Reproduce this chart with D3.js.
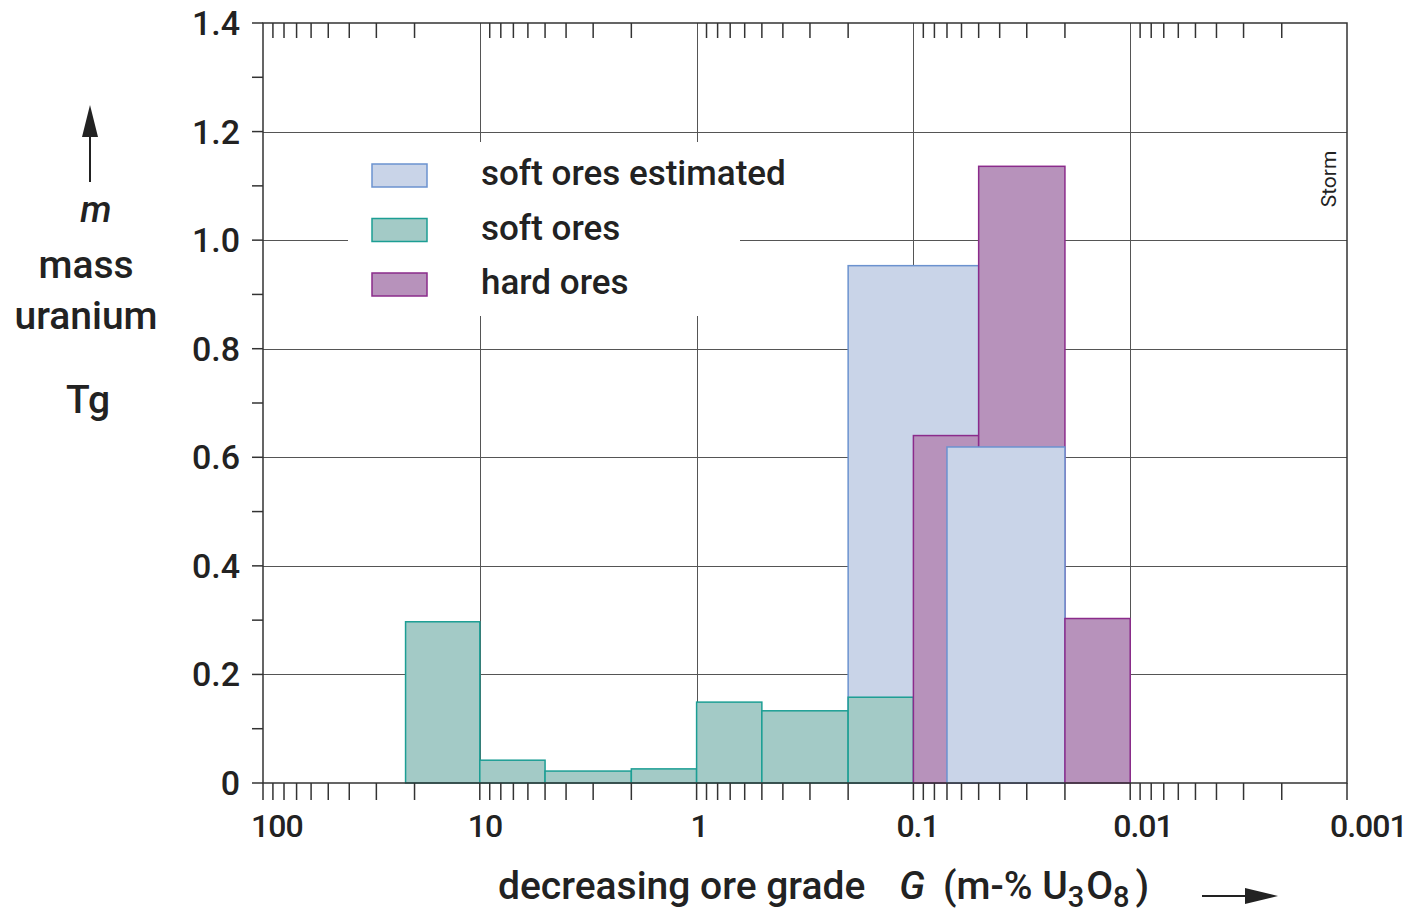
<!DOCTYPE html>
<html>
<head>
<meta charset="utf-8">
<script src="https://cdn.jsdelivr.net/npm/d3@7"></script>
<style>
  html, body { margin: 0; padding: 0; background: #fff; }
  svg { display: block; }
  text { font-family: Roboto, 'Noto Sans', sans-serif; fill: #222; }
</style>
</head>
<body>
<script>
// ore grade bins (m-% U3O8) and mass uranium (Tg)
var softEstimated = [
    { from: 0.2, to: 0.05, value: 0.953 },
    { from: 0.07, to: 0.02, value: 0.619 }
];
var softOres = [
    { from: 22, to: 10, value: 0.297 },
    { from: 10, to: 5, value: 0.042 },
    { from: 5, to: 2, value: 0.022 },
    { from: 2, to: 1, value: 0.026 },
    { from: 1, to: 0.5, value: 0.149 },
    { from: 0.5, to: 0.2, value: 0.133 },
    { from: 0.2, to: 0.1, value: 0.158 }
];
var hardOres = [
    { from: 0.1, to: 0.05, value: 0.640 },
    { from: 0.05, to: 0.02, value: 1.136 },
    { from: 0.02, to: 0.01, value: 0.303 }
];
var legendLabels = ['soft ores estimated', 'soft ores', 'hard ores'];
var xTickLabels = ['100', '10', '1', '0.1', '0.01', '0.001'];
var yTickLabels = ['0', '0.2', '0.4', '0.6', '0.8', '1.0', '1.2', '1.4'];

(function() {
    'use strict';
    var width = 1416, height = 916;
    var plot = { left: 263, right: 1347, top: 23, bottom: 783 };

    var colors = {
        est: { fill: '#c9d4e8', stroke: '#6b92cf' },
        soft: { fill: '#a3cac6', stroke: '#1c9e94' },
        hard: { fill: '#b792bb', stroke: '#8b2b8b' }
    };

    var svg = d3.select('body').append('svg')
        .attr('width', width)
        .attr('height', height);

    var x = d3.scaleLog()
        .domain([100, 0.001])
        .range([plot.left, plot.right]);

    var y = d3.scaleLinear()
        .domain([0, 1.4])
        .range([plot.bottom, plot.top]);

    var majors = xTickLabels.map(Number);
    var allTicks = x.ticks();
    var minors = allTicks.filter(function(d) {
        return majors.every(function(m) { return Math.abs(d / m - 1) > 1e-6; });
    });

    // grid
    var grid = svg.append('g').attr('stroke', '#555').attr('stroke-width', 1);
    grid.selectAll('.vg')
        .data(majors.slice(1, -1))
        .enter().append('line')
        .attr('x1', function(d) { return Math.round(x(d)) + 0.5; })
        .attr('x2', function(d) { return Math.round(x(d)) + 0.5; })
        .attr('y1', plot.top)
        .attr('y2', plot.bottom);
    grid.selectAll('.hg')
        .data(d3.range(1, 7).map(function(i) { return i * 0.2; }))
        .enter().append('line')
        .attr('x1', plot.left)
        .attr('x2', plot.right)
        .attr('y1', function(d) { return Math.round(y(d)) + 0.5; })
        .attr('y2', function(d) { return Math.round(y(d)) + 0.5; });

    // legend background knocks out the grid
    svg.append('rect')
        .attr('x', 348).attr('y', 142)
        .attr('width', 392).attr('height', 174)
        .attr('fill', '#fff');

    // bars
    function bar(d, key) {
        svg.append('rect')
            .attr('x', x(d.from))
            .attr('y', y(d.value))
            .attr('width', x(d.to) - x(d.from))
            .attr('height', y(0) - y(d.value))
            .attr('fill', colors[key].fill)
            .attr('stroke', colors[key].stroke)
            .attr('stroke-width', 1.5);
    }
    bar(softEstimated[0], 'est');
    softOres.forEach(function(d) { bar(d, 'soft'); });
    bar(hardOres[0], 'hard');
    bar(hardOres[1], 'hard');
    bar(softEstimated[1], 'est');
    bar(hardOres[2], 'hard');

    // frame
    svg.append('rect')
        .attr('x', plot.left).attr('y', plot.top)
        .attr('width', plot.right - plot.left)
        .attr('height', plot.bottom - plot.top)
        .attr('fill', 'none')
        .attr('stroke', '#333')
        .attr('stroke-width', 1.5);

    var ticks = svg.append('g').attr('stroke', '#333').attr('stroke-width', 1.5);
    // bottom ticks (outward)
    ticks.selectAll('.bt')
        .data(allTicks)
        .enter().append('line')
        .attr('x1', function(d) { return x(d); })
        .attr('x2', function(d) { return x(d); })
        .attr('y1', plot.bottom)
        .attr('y2', plot.bottom + 17);
    // top ticks (inward)
    ticks.selectAll('.tt')
        .data(minors)
        .enter().append('line')
        .attr('x1', function(d) { return x(d); })
        .attr('x2', function(d) { return x(d); })
        .attr('y1', plot.top)
        .attr('y2', plot.top + 15);
    // left ticks (outward)
    ticks.selectAll('.lt')
        .data(y.ticks(14))
        .enter().append('line')
        .attr('x1', plot.left - 11)
        .attr('x2', plot.left)
        .attr('y1', function(d) { return y(d); })
        .attr('y2', function(d) { return y(d); });

    // tick labels
    svg.selectAll('.xl')
        .data(xTickLabels)
        .enter().append('text')
        .attr('x', function(d) { return x(+d) - (+d < 1 ? 17 : (+d === 1 ? 6 : 12)); })
        .attr('y', 837)
        .attr('font-size', 32)
        .attr('font-weight', 500)
        .attr('letter-spacing', -1)
        .text(function(d) { return d; });

    svg.selectAll('.yl')
        .data(yTickLabels)
        .enter().append('text')
        .attr('x', 240)
        .attr('y', function(d) { return y(+d) + 12; })
        .attr('text-anchor', 'end')
        .attr('font-size', 34)
        .attr('font-weight', 500)
        .text(function(d) { return d; });

    // legend
    var keys = ['est', 'soft', 'hard'];
    var legend = svg.append('g');
    legendLabels.forEach(function(label, i) {
        var yy = 164 + i * 54.5;
        legend.append('rect')
            .attr('x', 372).attr('y', yy)
            .attr('width', 55).attr('height', 23)
            .attr('fill', colors[keys[i]].fill)
            .attr('stroke', colors[keys[i]].stroke)
            .attr('stroke-width', 1.5);
        legend.append('text')
            .attr('x', 481)
            .attr('y', yy + 21)
            .attr('font-size', 35)
            .attr('font-weight', 500)
            .text(label);
    });

    // y title
    var yt = svg.append('g');
    yt.append('line')
        .attr('x1', 90).attr('x2', 90)
        .attr('y1', 182).attr('y2', 130)
        .attr('stroke', '#222').attr('stroke-width', 2);
    yt.append('path')
        .attr('d', 'M90,105 L82,137 L98,137 Z')
        .attr('fill', '#222');
    yt.append('text').attr('x', 96).attr('y', 222)
        .attr('text-anchor', 'middle').attr('font-size', 37)
        .attr('font-style', 'italic').attr('font-weight', 500).text('m');
    yt.append('text').attr('x', 86).attr('y', 278)
        .attr('text-anchor', 'middle').attr('font-size', 39)
        .attr('font-weight', 500).text('mass');
    yt.append('text').attr('x', 86).attr('y', 329)
        .attr('text-anchor', 'middle').attr('font-size', 39)
        .attr('font-weight', 500).text('uranium');
    yt.append('text').attr('x', 88).attr('y', 413)
        .attr('text-anchor', 'middle').attr('font-size', 39)
        .attr('font-weight', 500).text('Tg');

    // x title
    var xt = svg.append('text')
        .attr('x', 498).attr('y', 899)
        .attr('font-size', 39)
        .attr('font-weight', 500);
    xt.append('tspan').text('decreasing ore grade');
    xt.append('tspan').attr('dx', 34).attr('font-style', 'italic').text('G');
    xt.append('tspan').attr('dx', 18).text('(m-% U');
    xt.append('tspan').attr('font-size', 29).attr('dy', 8).text('3');
    xt.append('tspan').attr('dy', -8).attr('dx', 2).text('O');
    xt.append('tspan').attr('font-size', 29).attr('dy', 8).text('8');
    xt.append('tspan').attr('dy', -8).attr('dx', 6).text(')');

    svg.append('line')
        .attr('x1', 1202).attr('x2', 1252)
        .attr('y1', 896).attr('y2', 896)
        .attr('stroke', '#222').attr('stroke-width', 2);
    svg.append('path')
        .attr('d', 'M1278,896 L1245,888 L1245,904 Z')
        .attr('fill', '#222');

    // credit
    svg.append('text')
        .attr('transform', 'translate(1336,179) rotate(-90)')
        .attr('text-anchor', 'middle')
        .attr('font-family', 'Noto Sans')
        .attr('font-size', 21)
        .text('Storm');
}());
</script>
</body>
</html>
